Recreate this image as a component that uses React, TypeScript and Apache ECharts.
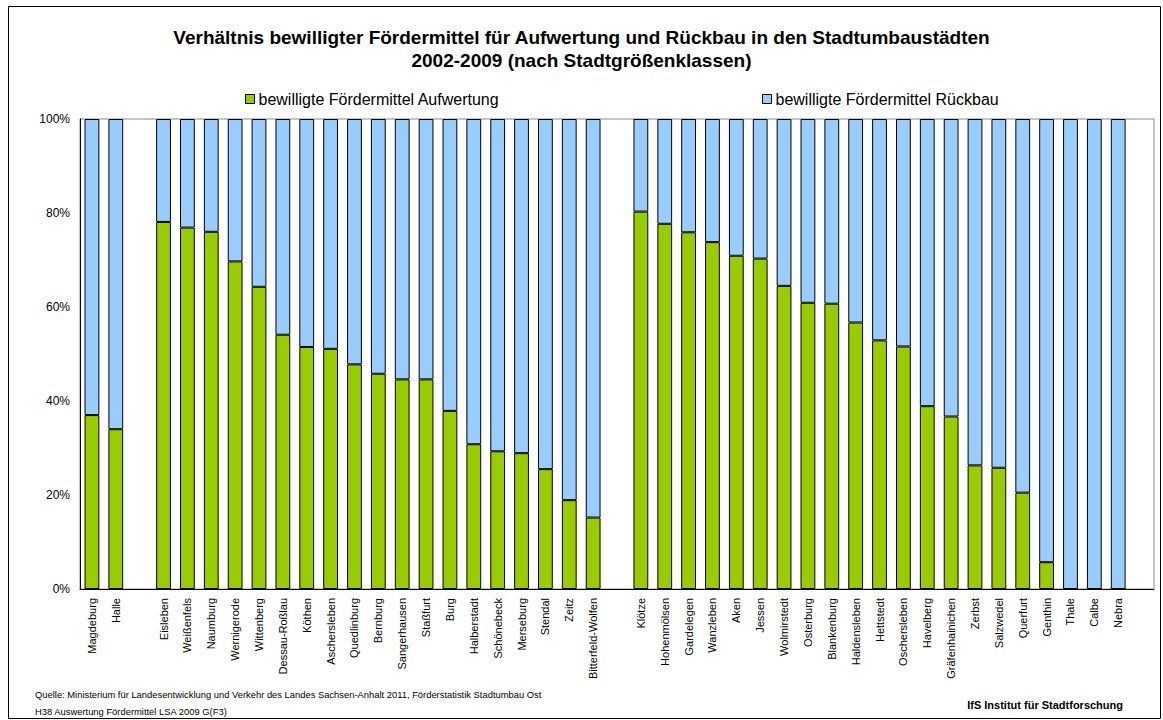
import React, { useEffect, useRef } from "react";
import * as echarts from "echarts";

const categories: string[] = [
  "Magdeburg", "Halle", "",
  "Eisleben", "Weißenfels", "Naumburg", "Wernigerode", "Wittenberg", "Dessau-Roßlau", "Köthen",
  "Aschersleben", "Quedlinburg", "Bernburg", "Sangerhausen", "Staßfurt", "Burg", "Halberstadt",
  "Schönebeck", "Merseburg", "Stendal", "Zeitz", "Bitterfeld-Wolfen", "",
  "Klötze", "Hohenmölsen", "Gardelegen", "Wanzleben", "Aken", "Jessen", "Wolmirstedt", "Osterburg",
  "Blankenburg", "Haldensleben", "Hettstedt", "Oschersleben", "Havelberg", "Gräfenhainichen",
  "Zerbst", "Salzwedel", "Querfurt", "Genthin", "Thale", "Calbe", "Nebra", "",
];

const aufwertung: (number | string)[] = [
  37.0, 34.0, "-",
  78.1, 76.9, 76.0, 69.7, 64.3, 54.1, 51.5,
  51.1, 47.8, 45.8, 44.6, 44.6, 37.9, 30.8,
  29.3, 28.9, 25.5, 18.9, 15.2, "-",
  80.3, 77.7, 75.9, 73.8, 70.9, 70.3, 64.5, 60.9,
  60.7, 56.7, 52.9, 51.6, 38.9, 36.7,
  26.3, 25.8, 20.5, 5.7, 0, 0, 0, "-",
];

const rueckbau: (number | string)[] = [
  63.0, 66.0, "-",
  21.9, 23.1, 24.0, 30.3, 35.7, 45.9, 48.5,
  48.9, 52.2, 54.2, 55.4, 55.4, 62.1, 69.2,
  70.7, 71.1, 74.5, 81.1, 84.8, "-",
  19.7, 22.3, 24.1, 26.2, 29.1, 29.7, 35.5, 39.1,
  39.3, 43.3, 47.1, 48.4, 61.1, 63.3,
  73.7, 74.2, 79.5, 94.3, 100, 100, 100, "-",
];

const yTicks = { min: 0, max: 100, interval: 20 };

const titleLines = [
  "Verhältnis bewilligter Fördermittel für Aufwertung und Rückbau in den Stadtumbaustädten",
  "2002-2009 (nach Stadtgrößenklassen)",
];
const seriesNames = ["bewilligte Fördermittel Aufwertung", "bewilligte Fördermittel Rückbau"];
const footerLeft = [
  "Quelle: Ministerium für Landesentwicklung und Verkehr des Landes Sachsen-Anhalt 2011, Förderstatistik Stadtumbau Ost",
  "H38 Auswertung Fördermittel LSA 2009 G(F3)",
];
const footerRight = "IfS Institut für Stadtforschung";

const FONT = "'Liberation Sans', Arial, sans-serif";

export default function App() {
  const ref = useRef<HTMLDivElement>(null);
  useEffect(() => {
    if (!ref.current) return;
    const chart = echarts.init(ref.current, undefined, { renderer: "svg" });
    const legendBase = {
      top: 86,
      icon: "rect",
      itemWidth: 9,
      itemHeight: 9,
      itemGap: 4,
      textStyle: { fontSize: 16, color: "#000", fontFamily: FONT, padding: [0, 0, 0, -1] },
      itemStyle: { borderColor: "#000", borderWidth: 1 },
    };
    chart.setOption({
      animation: false,
      backgroundColor: "#fff",
      textStyle: { fontFamily: FONT },
      title: {
        text: titleLines.join("\n"),
        left: "center",
        top: 21,
        textStyle: { fontSize: 19, fontWeight: "bold", color: "#000", lineHeight: 23, fontFamily: FONT },
      },
      legend: [
        { ...legendBase, data: [seriesNames[0]], left: 240 },
        { ...legendBase, data: [seriesNames[1]], left: 757 },
      ],
      grid: {
        left: 80,
        right: 9,
        top: 119,
        bottom: 131,
        show: true,
        borderColor: "#8c8c8c",
        borderWidth: 1,
        backgroundColor: "transparent",
      },
      xAxis: {
        type: "category",
        data: categories,
        axisLine: { show: true, lineStyle: { color: "#000", width: 1 } },
        axisTick: { show: false },
        axisLabel: {
          rotate: 90,
          interval: 0,
          fontSize: 11,
          color: "#000",
          margin: 9,
          fontFamily: FONT,
        },
      },
      yAxis: {
        type: "value",
        min: yTicks.min,
        max: yTicks.max,
        interval: yTicks.interval,
        axisLine: { show: true, lineStyle: { color: "#000", width: 1 } },
        axisTick: { show: false },
        splitLine: { show: false },
        axisLabel: {
          formatter: "{value}%",
          fontSize: 12,
          color: "#000",
          margin: 10,
          fontFamily: FONT,
        },
      },
      series: [
        {
          name: seriesNames[0],
          type: "bar",
          stack: "total",
          data: aufwertung,
          barWidth: "62%",
          itemStyle: { color: "#99cc00", borderColor: "#000", borderWidth: 1 },
        },
        {
          name: seriesNames[1],
          type: "bar",
          stack: "total",
          data: rueckbau,
          barWidth: "62%",
          itemStyle: { color: "#99ccff", borderColor: "#000", borderWidth: 1 },
        },
      ],
      graphic: [
        {
          type: "rect",
          shape: { x: 8.5, y: 6.5, width: 1152, height: 712 },
          style: { fill: "none", stroke: "#000", lineWidth: 1 },
          silent: true,
        },
        {
          type: "text",
          left: 35,
          top: 690,
          style: { text: footerLeft[0], fontSize: 9.4, fill: "#000", fontFamily: FONT },
        },
        {
          type: "text",
          left: 35,
          top: 707,
          style: { text: footerLeft[1], fontSize: 9.4, fill: "#000", fontFamily: FONT },
        },
        {
          type: "text",
          right: 40,
          top: 699,
          style: { text: footerRight, fontSize: 11, fontWeight: "bold", fill: "#000", fontFamily: FONT },
        },
      ],
    });
    return () => chart.dispose();
  }, []);
  return (
    <div
      ref={ref}
      style={{ position: "fixed", left: 0, top: 0, width: 1163, height: 720 }}
    />
  );
}
